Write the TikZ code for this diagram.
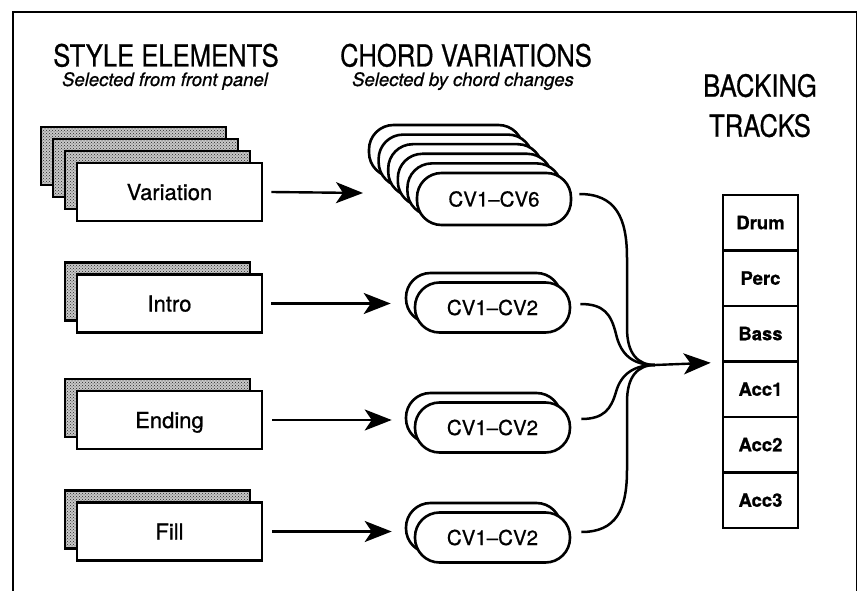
\documentclass[tikz,border=0pt]{standalone}
\usepackage{fontspec}
\usepackage{graphicx}
\setmainfont{TeX Gyre Heros}[FakeBold=0.7]
\usetikzlibrary{arrows.meta,patterns}
\newcommand{\narrowtxt}[1]{\scalebox{0.84}[1]{#1}}
\begin{document}
\begin{tikzpicture}[x=1pt,y=-1pt,
  frameline/.style={line width=1.8pt},
  header/.style={anchor=base, inner sep=0pt, font=\fontsize{30.5}{36}\selectfont},
  subhead/.style={anchor=base, inner sep=0pt, font=\itshape\fontsize{18.5}{22}\selectfont},
  shadowbox/.style={draw, line width=2.8pt, preaction={fill=black!22}, pattern=crosshatch dots, pattern color=black!85},
  elbox/.style={draw, line width=2.8pt, fill=white, minimum width=185pt, minimum height=58pt, inner sep=0pt,
    font=\fontsize{22}{26}\selectfont, text height=16pt, text depth=0pt},
  pillback/.style={draw, line width=2.6pt, fill=white, rounded corners=24.5pt},
  pill/.style={draw, line width=2.6pt, fill=white, rounded corners=24.5pt, minimum width=155pt, minimum height=50pt,
    inner sep=0pt, font=\fontsize{20.5}{24}\selectfont, text height=15pt, text depth=0pt},
  track/.style={draw, line width=2.6pt, minimum width=75pt, minimum height=55.5pt, inner sep=0pt,
    font=\bfseries\fontsize{18.5}{22}\selectfont, text height=13pt, text depth=0pt},
  arr/.style={line width=2.4pt, -{Stealth[length=27pt,width=21pt,inset=7pt]}},
  link/.style={line width=2.5pt}
]
\useasboundingbox (0,0) rectangle (860,591);
% frame (open at the bottom)
\draw[frameline] (13,600) -- (13,12) -- (856.5,12) -- (856.5,600);

% headers
\node[header] (h1) at (166,66.5) {\narrowtxt{STYLE ELEMENTS}};
\node[subhead] (s1) at (165,86) {Selected from front panel};
\node[header] (h2) at (466,66.5) {\narrowtxt{CHORD VARIATIONS}};
\node[subhead] (s2) at (463,86) {Selected by chord changes};
\node[header] (h3) at (760,96.7) {\narrowtxt{BACKING}};
\node[header] (h4) at (760,136.7) {\narrowtxt{TRACKS}};

% style elements
\draw[shadowbox] (41,127) rectangle ++(185,58);
\draw[shadowbox] (53,139) rectangle ++(185,58);
\draw[shadowbox] (65,151) rectangle ++(185,58);
\node[elbox] (var) at (169.5,192) {Variation};

\draw[shadowbox] (65,262.5) rectangle ++(185,58);
\node[elbox] (intro) at (169.5,303.5) {Intro};

\draw[shadowbox] (65,379) rectangle ++(185,58);
\node[elbox] (ending) at (169.5,420) {Ending};

\draw[shadowbox] (65,490.5) rectangle ++(185,58);
\node[elbox] (fill) at (169.5,531.5) {Fill};

% chord variations
\foreach \i in {5,4,3,2,1}
  \draw[pillback] (417-9.6*\i,173-9.6*\i) rectangle ++(154,52);
\node[pill, minimum width=154pt, minimum height=52pt] (cvA) at (494,199) {CV1–CV6};

\draw[pillback] (406,273) rectangle ++(155,50);
\node[pill] (cvB) at (492.5,307.5) {CV1–CV2};

\draw[pillback] (406,393) rectangle ++(155,50);
\node[pill] (cvC) at (492.5,427.5) {CV1–CV2};

\draw[pillback] (406,503) rectangle ++(155,50);
\node[pill] (cvD) at (492.5,537.5) {CV1–CV2};

% arrows style -> chord variations
\coordinate (tipA) at (363,193);
\draw[arr] ([xshift=8pt]var.east) -- (tipA);
\draw[arr] ([xshift=8pt]intro.east) -- ([xshift=-23pt]cvB.west |- intro.east);
\draw[arr] ([xshift=9pt]ending.east) -- ([xshift=-22pt]cvC.west |- ending.east);
\draw[arr] ([xshift=9pt]fill.east) -- ([xshift=-22pt]cvD.west |- fill.east);

% backing tracks
\foreach \n/\t [count=\i from 0] in {drum/Drum,perc/Perc,bass/Bass,acc1/Acc1,acc2/Acc2,acc3/Acc3}
  \node[track] (\n) at (760.5,222.75+55.5*\i) {\t};

% merging connectors
\coordinate (m) at (655,365);
\draw[link] ([xshift=7pt,yshift=5pt]cvA.east) .. controls (616,194) and (627,218) .. (627,258)
   -- (627,328) .. controls (627,354) and (638,365) .. (m);
\draw[link] ([xshift=9pt,yshift=3.5pt]cvB.east) .. controls (604,304) and (611,314) .. (616,334)
   .. controls (621,356) and (634,365) .. (m);
\draw[link] ([xshift=10pt,yshift=8.5pt]cvC.east) .. controls (604,419) and (611,409) .. (616,392)
   .. controls (621,374) and (634,365) .. (m);
\draw[link] ([xshift=10pt,yshift=5.5pt]cvD.east) .. controls (616,532) and (627,510) .. (627,470)
   -- (627,402) .. controls (627,376) and (638,365) .. (m);
\draw[arr] (m) -- ([xshift=-11pt]bass.south west);
\end{tikzpicture}
\end{document}
